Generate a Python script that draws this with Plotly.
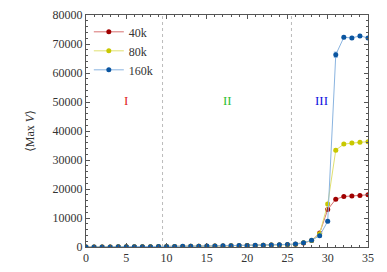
import plotly.graph_objects as go

x_vals = list(range(0, 36))
v40k = [20, 25, 30, 40, 50, 60, 75, 90, 110, 130, 150, 170, 200, 230, 260, 300, 340, 380, 420, 460,
        500, 540, 600, 660, 720, 800, 950, 1400, 2200, 4800, 12900, 16500, 17400, 17600, 17800, 18000]
v80k = [20, 25, 30, 40, 50, 60, 75, 90, 110, 130, 150, 170, 200, 230, 260, 300, 340, 380, 420, 460,
        500, 540, 600, 660, 720, 800, 980, 1450, 2250, 4600, 14800, 33400, 35500, 35900, 36100, 36300]
v160k = [20, 25, 30, 40, 50, 60, 75, 90, 110, 130, 160, 190, 220, 260, 300, 340, 380, 420, 460, 500,
         540, 580, 640, 700, 760, 850, 1050, 1500, 2300, 3900, 8850, 66300, 72300, 72100, 72800, 72100]
err40k = [0]*29 + [300, 400, 300, 200, 200, 200, 200]
err80k = [0]*29 + [300, 500, 500, 300, 300, 300, 300]
err160k = [0]*29 + [300, 500, 900, 500, 500, 500, 500]

series = [
    ("40k", v40k, err40k, "#a00000", "#d87070"),
    ("80k", v80k, err80k, "#c8c800", "#e0e070"),
    ("160k", v160k, err160k, "#0a55a0", "#8ab4e0"),
]

region_labels = ["I", "II", "III"]
region_x = [5, 17.5, 29.2]
region_y = [50500, 50500, 50500]
region_colors = ["#e02020", "#30c030", "#1010e0"]
boundaries = [9.5, 25.5]

FONT = "Liberation Serif, DejaVu Serif, serif"

fig = go.Figure()
for name, vals, errs, mcol, lcol in series:
    fig.add_trace(go.Scatter(
        x=x_vals, y=vals, name=name, mode="lines+markers",
        line=dict(color=lcol, width=1),
        marker=dict(color=mcol, size=5),
        error_y=dict(type="data", array=errs, color=lcol, thickness=1, width=2),
    ))

for b in boundaries:
    fig.add_vline(x=b, line=dict(color="#bbbbbb", width=1, dash="dot"), layer="below")

for t, xx, yy, c in zip(region_labels, region_x, region_y, region_colors):
    fig.add_annotation(x=xx, y=yy, text=t, showarrow=False,
                       font=dict(color=c, size=13, family=FONT))

axis_common = dict(
    showline=True, linecolor="#555555", linewidth=1, mirror="allticks",
    ticks="inside", ticklen=4, tickcolor="#555555", showgrid=False, zeroline=False,
    tickfont=dict(family=FONT, size=12, color="#333333"), automargin=False,
)
fig.update_xaxes(range=[0, 35], dtick=5, tick0=0, tickformat="d",
                 minor=dict(dtick=1, ticks="inside", ticklen=2, tickcolor="#555555"),
                 **axis_common)
fig.update_yaxes(range=[0, 80000], dtick=10000, tick0=0, tickformat="d",
                 minor=dict(dtick=2000, ticks="inside", ticklen=2, tickcolor="#555555"),
                 title=dict(text="⟨Max <i>V</i>⟩", font=dict(family=FONT, size=12, color="#333333")),
                 **axis_common)

fig.update_layout(
    width=387, height=272,
    margin=dict(l=86, r=19, t=15, b=25),
    plot_bgcolor="white", paper_bgcolor="white",
    font=dict(family=FONT, size=12, color="#333333"),
    legend=dict(x=0.01, y=0.99, xanchor="left", yanchor="top", bgcolor="rgba(0,0,0,0)",
                font=dict(size=12, family=FONT), tracegroupgap=0, itemwidth=30),
    showlegend=True,
)

fig.write_html("out.html", config={"displayModeBar": False},
               post_script="document.body.style.margin='0';")
